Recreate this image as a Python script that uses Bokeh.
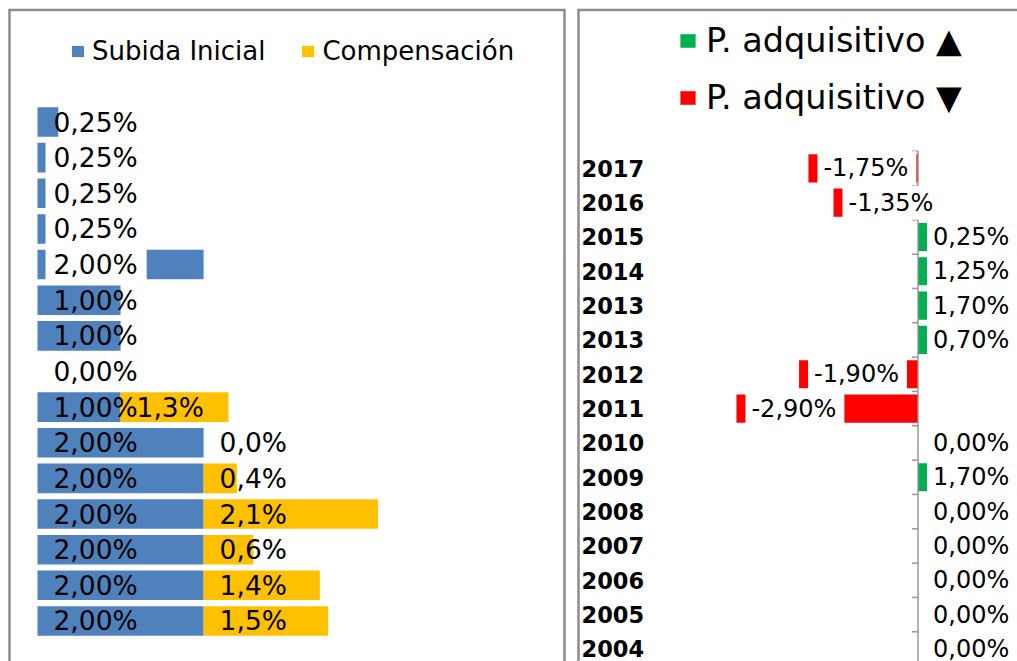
from bokeh.plotting import figure
from bokeh.models import Range1d, Legend, LegendItem
from bokeh.layouts import row
from bokeh.embed import file_html
from bokeh.resources import INLINE
from bokeh.core.properties import value
import math

# ---------------- data ----------------
# left chart (rows top -> bottom)
subida = [0.25, 0.25, 0.25, 0.25, 2.00, 1.00, 1.00, 0.00, 1.00, 2.00, 2.00, 2.00, 2.00, 2.00, 2.00]
compensacion = [None, None, None, None, None, None, None, None, 1.3, 0.0, 0.4, 2.1, 0.6, 1.4, 1.5]

# right chart (rows top -> bottom)
years = ["2017", "2016", "2015", "2014", "2013", "2013", "2012", "2011",
         "2010", "2009", "2008", "2007", "2006", "2005", "2004"]
poder = [-1.75, -1.35, 0.25, 1.25, 1.70, 0.70, -1.90, -2.90,
         0.00, 1.70, 0.00, 0.00, 0.00, 0.00, 0.00]

# ---------------- style ----------------
BLUE, YELLOW, GREEN, RED = "#4F81BD", "#FFC000", "#00B050", "#FF0000"
BORDER = "#8c8c8c"
FONT = "DejaVu Sans"


def fmt(v, d):
    return ("{:.%df}" % d).format(v).replace(".", ",") + "%"


# ---------------- left panel ----------------
LW, LH = 572, 661
L_ZERO, L_SCALE = 37.0, 83.05
L_ROW0, L_PITCH = 121.5, 35.64


def lx(px):
    return (px - L_ZERO) / L_SCALE


def ly(py):
    return (py - L_ROW0) / L_PITCH


p1 = figure(width=LW, height=LH, output_backend="svg", toolbar_location=None,
            x_range=Range1d(lx(0), lx(LW)), y_range=Range1d(ly(LH), ly(0)),
            x_axis_type=None, y_axis_type=None,
            min_border_left=0, min_border_right=0, min_border_top=0, min_border_bottom=0)
p1.grid.visible = False
p1.outline_line_color = None
p1.background_fill_color = "white"
p1.border_fill_color = "white"

# panel frame (open at the bottom, as in the cropped original)
p1.line(x=[lx(9), lx(9), lx(564), lx(564)], y=[ly(LH + 10), ly(9.5), ly(9.5), ly(LH + 10)],
        line_color=BORDER, line_width=2.5, line_join="miter")

ys = list(range(len(subida)))
blue_r = p1.hbar(y=ys, left=0, right=subida, height=0.83,
                 fill_color=BLUE, line_color=None)
cy = [i for i, c in enumerate(compensacion) if c is not None]
cl = [subida[i] for i in cy]
cr = [subida[i] + compensacion[i] for i in cy]
yel_r = p1.hbar(y=cy, left=cl, right=cr, height=0.83,
                fill_color=YELLOW, line_color=None)

boxed_left = [1, 2, 3, 4]
lab_common = dict(text_align="left", text_baseline="middle",
                  text_font=value(FONT), text_font_size="26.5px", text_color="black")
pad_l = {"left": 8, "right": 9, "top": 2, "bottom": 2}

iu = [i for i in ys if i not in boxed_left]
p1.text(x=[0] * len(iu), y=iu, text=[fmt(subida[i], 2) for i in iu],
        x_offset=8, padding=pad_l, **lab_common)
p1.text(x=[0] * len(boxed_left), y=boxed_left, text=[fmt(subida[i], 2) for i in boxed_left],
        x_offset=8, padding=pad_l, background_fill_color="white", **lab_common)
p1.text(x=cl, y=cy, text=[fmt(compensacion[i], 1) for i in cy],
        x_offset=8, padding=pad_l, **lab_common)

leg1 = Legend(items=[LegendItem(label="Subida Inicial", renderers=[blue_r]),
                     LegendItem(label="Compensación", renderers=[yel_r])],
              orientation="horizontal", location=(70, 590),
              glyph_width=15, glyph_height=14, label_standoff=7, spacing=35,
              label_height=40, padding=0, margin=0,
              border_line_color=None, background_fill_alpha=0,
              label_text_font=FONT, label_text_font_size="26px", label_text_color="black")
p1.add_layout(leg1)

# ---------------- right panel ----------------
RW, RH = 445, 661
R_ZERO, R_SCALE = 345.5, 62.6
R_ROW0, R_PITCH = 167.8, 34.33


def rx(px):
    return (px - R_ZERO) / R_SCALE


def ry(py):
    return (py - R_ROW0) / R_PITCH


p2 = figure(width=RW, height=RH, output_backend="svg", toolbar_location=None,
            x_range=Range1d(rx(0), rx(RW)), y_range=Range1d(ry(RH), ry(0)),
            x_axis_type=None, y_axis_type=None,
            min_border_left=0, min_border_right=0, min_border_top=0, min_border_bottom=0)
p2.grid.visible = False
p2.outline_line_color = None
p2.background_fill_color = "white"
p2.border_fill_color = "white"

p2.line(x=[rx(6), rx(6), rx(RW + 10)], y=[ry(RH + 10), ry(9.5), ry(9.5)],
        line_color=BORDER, line_width=2.5, line_join="miter")

ry_idx = list(range(len(years)))
pos = [i for i in ry_idx if poder[i] > 0]
neg = [i for i in ry_idx if poder[i] < 0]
green_r = p2.hbar(y=pos, left=0, right=[poder[i] for i in pos], height=0.82,
                  fill_color=GREEN, line_color=None)
red_r = p2.hbar(y=neg, left=[poder[i] for i in neg], right=0, height=0.82,
                fill_color=RED, line_color=None)

# category axis crossing at zero
p2.segment(x0=0, y0=-0.5, x1=0, y1=len(years) - 0.5, line_color="#999999", line_width=1.5)
p2.ray(x=[0] * (len(years) + 1), y=[i - 0.5 for i in range(len(years) + 1)],
       length=6, length_units="screen", angle=math.pi, line_color="#999999", line_width=1.5)

p2.text(x=[min(0, v) for v in poder], y=ry_idx, text=[fmt(v, 2) for v in poder],
        x_offset=9, padding={"left": 6, "right": 8, "top": 3, "bottom": 3},
        background_fill_color="white",
        text_align="left", text_baseline="middle",
        text_font=value(FONT), text_font_size="24px", text_color="black")

p2.text(x=[rx(0)] * len(years), y=ry_idx, text=years, x_offset=9,
        text_align="left", text_baseline="middle",
        text_font=value(FONT), text_font_size="22.5px", text_font_style="bold",
        text_color="black")

leg2 = Legend(items=[LegendItem(label="P. adquisitivo ▲", renderers=[green_r]),
                     LegendItem(label="P. adquisitivo ▼", renderers=[red_r])],
              orientation="vertical", location=(106, 535),
              glyph_width=19, glyph_height=17, label_standoff=9, spacing=0,
              label_height=57, padding=0, margin=0,
              border_line_color=None, background_fill_alpha=0,
              label_text_font=FONT, label_text_font_size="33.5px", label_text_color="black")
p2.add_layout(leg2)

layout = row(p1, p2, spacing=0)
open("out.html", "w").write(file_html(layout, INLINE))
